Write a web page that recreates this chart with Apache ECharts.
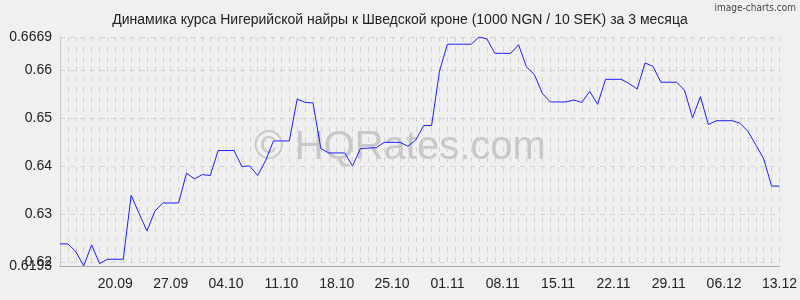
<!DOCTYPE html>
<html><head><meta charset="utf-8">
<script src="https://cdn.jsdelivr.net/npm/echarts@6/dist/echarts.min.js"></script>
<style>html,body{margin:0;padding:0;background:#f0f0f0;}#c{width:800px;height:300px;}</style>
</head><body><div id="c"></div>
<script>
function buildDates(){
  var out=[]; var d=new Date(2000,8,13);
  for(var i=0;i<92;i++){var dd=('0'+d.getDate()).slice(-2), mm=('0'+(d.getMonth()+1)).slice(-2); out.push(dd+'.'+mm); d.setDate(d.getDate()+1);}
  return out;
}
var categories = buildDates();
var rates = [
0.6239,0.6239,0.6223,0.6193,0.6237,0.6198,0.6207,0.6207,0.6207,0.6340,
0.6302,0.6266,0.6307,0.6324,0.6324,0.6324,0.6386,0.6374,0.6383,0.6381,
0.6433,0.6433,0.6433,0.6400,0.6401,0.6381,0.6412,0.6453,0.6453,0.6453,
0.6540,0.6533,0.6532,0.6437,0.6428,0.6428,0.6428,0.6401,0.6437,0.6438,
0.6439,0.6450,0.6450,0.6450,0.6442,0.6455,0.6485,0.6485,0.6598,0.6654,
0.6654,0.6654,0.6654,0.6669,0.6665,0.6635,0.6635,0.6635,0.6653,0.6607,
0.6591,0.6552,0.6534,0.6534,0.6534,0.6538,0.6533,0.6556,0.6529,0.6581,
0.6581,0.6581,0.6572,0.6561,0.6615,0.6608,0.6575,0.6575,0.6575,0.6558,
0.6501,0.6545,0.6487,0.6495,0.6495,0.6495,0.6490,0.6473,0.6445,0.6416,
0.6359,0.6359];
var yMin = 0.6193, yMax = 0.6669;
var yTicks = [0.62, 0.63, 0.64, 0.65, 0.66, 0.6669];
var titleText = 'Динамика курса Нигерийской найры к Шведской кроне (1000 NGN / 10 SEK) за 3 месяца';
var font = 'Liberation Sans, Arial';
var chart = echarts.init(document.getElementById('c'), null, {renderer:'canvas'});
chart.setOption({
  backgroundColor:'#f0f0f0',
  animation:false,
  title:{text:titleText,left:'center',top:8,textStyle:{fontFamily:font,fontSize:14,fontWeight:'normal',color:'#222'}},
  graphic:[
    {type:'text',right:4,top:3,style:{text:'image-charts.com',font:'10px "DejaVu Sans Condensed", "Liberation Sans Narrow", sans-serif',fill:'#444'}},
    {type:'text',left:'center',top:128,style:{text:'© HQRates.com',font:'40px "Liberation Sans", Arial, sans-serif',fill:'rgba(150,150,150,0.45)'}}
  ],
  grid:{left:60,right:20,top:37,bottom:34},
  xAxis:{type:'category',data:categories,boundaryGap:false,
    axisLine:{show:true,lineStyle:{color:'#aaa'}},axisTick:{show:false},
    axisLabel:{interval:function(i){return i>=7 && (i-7)%7===0;},fontFamily:font,fontSize:14,color:'#222',margin:11},
    splitLine:{show:true,interval:0,lineStyle:{color:'#d2d2d2',type:[5,5],width:1}}},
  yAxis:[
    {type:'value',min:yMin,max:yMax,
     axisLine:{show:true,lineStyle:{color:'#c8c8c8'}},axisTick:{show:false},
     axisLabel:{customValues:yTicks,fontFamily:font,fontSize:14,color:'#222',margin:8},
     splitLine:{show:true,lineStyle:{color:'#d2d2d2',type:[5,5],width:1}}},
    {type:'value',min:yMin,max:yMax,position:'left',
     axisLine:{show:false},axisTick:{show:false},splitLine:{show:false},
     axisLabel:{customValues:[yMin],fontFamily:font,fontSize:14,color:'#222',margin:8}}
  ],
  series:[{type:'line',data:rates,symbol:'none',lineStyle:{color:'#1e1eff',width:1},z:5}]
});
</script></body></html>
